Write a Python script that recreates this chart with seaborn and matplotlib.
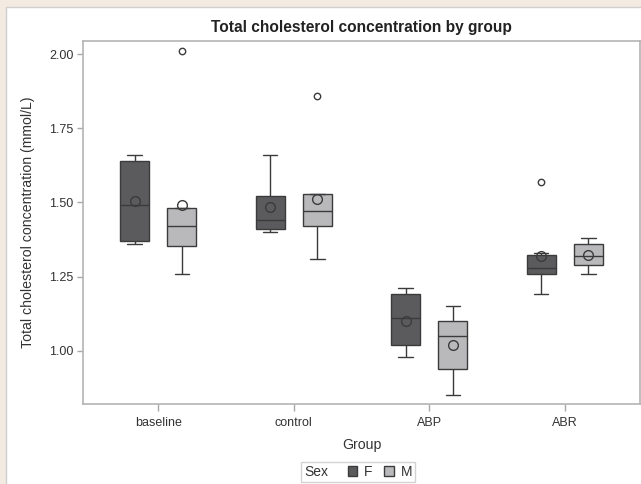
import numpy as np
import pandas as pd
import seaborn as sns
import matplotlib.pyplot as plt
from matplotlib.patches import Patch, Rectangle
from matplotlib.offsetbox import HPacker

# total cholesterol (mmol/L) per group and sex
groups = ["baseline", "control", "ABP", "ABR"]
sexes = ["F", "M"]

baseline_F = [1.36, 1.37, 1.49, 1.64, 1.66]
baseline_M = [1.26, 1.35, 1.36, 1.48, 1.48, 2.01]
control_F = [1.40, 1.41, 1.44, 1.52, 1.66]
control_M = [1.31, 1.42, 1.42, 1.52, 1.53, 1.86]
abp_F = [0.98, 1.02, 1.11, 1.19, 1.21]
abp_M = [0.85, 0.94, 1.05, 1.10, 1.15]
abr_F = [1.19, 1.26, 1.26, 1.30, 1.33, 1.57]
abr_M = [1.26, 1.29, 1.32, 1.36, 1.38]

yticks = [1.00, 1.25, 1.50, 1.75, 2.00]

series = {
    ("baseline", "F"): baseline_F, ("baseline", "M"): baseline_M,
    ("control", "F"): control_F, ("control", "M"): control_M,
    ("ABP", "F"): abp_F, ("ABP", "M"): abp_M,
    ("ABR", "F"): abr_F, ("ABR", "M"): abr_M,
}
rows = []
for (g, s), vals in series.items():
    for v in vals:
        rows.append({"Group": g, "Sex": s, "Chol": v})
df = pd.DataFrame(rows)

sns.set_theme(style="white")
plt.rcParams["font.family"] = ["Liberation Sans", "DejaVu Sans"]

colors = {"F": "#5b5b5d", "M": "#b9b9bc"}
edge = "#3b3b3b"
txt = "#333333"

fig = plt.figure(figsize=(6.41, 4.84), dpi=100, facecolor="#f3eae1")
# white panel with thin border, like the page frame
fig.patches.append(Rectangle((6 / 641, -0.01), 1.0, 1 - 7 / 484 + 0.01,
                             transform=fig.transFigure, facecolor="white",
                             edgecolor="#cfcfcf", linewidth=1.0, zorder=-5))
ax = fig.add_axes([83 / 641, 1 - 404 / 484, (640 - 83) / 641, (404 - 41) / 484])

sns.boxplot(data=df, x="Group", y="Chol", hue="Sex", order=groups,
            hue_order=sexes, palette=colors, saturation=1, width=0.698,
            gap=0.39, linecolor=edge, linewidth=1.0, legend=False,
            showmeans=True,
            meanprops=dict(marker="o", markerfacecolor="none",
                           markeredgecolor=edge, markersize=7,
                           markeredgewidth=1.0),
            flierprops=dict(marker="o", markerfacecolor="none",
                            markeredgecolor=edge, markersize=4.6,
                            markeredgewidth=1.0),
            ax=ax)

ax.set_xlim(-0.555, 3.555)
ax.set_ylim(0.8208, 2.0438)
ax.set_yticks(yticks)
ax.set_yticklabels([f"{t:.2f}" for t in yticks])

for sp in ax.spines.values():
    sp.set_color("#b4b4b4")
    sp.set_linewidth(1.2)

ax.tick_params(axis="both", which="both", length=4, width=1, color="#a8a8a8",
               labelsize=9, labelcolor=txt, pad=3)
ax.tick_params(axis="x", length=5, pad=4)
ax.tick_params(left=True, bottom=True)

ax.set_xlabel("Group", fontsize=10.2, color=txt, labelpad=7)
ax.set_ylabel("Total cholesterol concentration (mmol/L)", fontsize=10.2,
              color=txt, labelpad=10)
ax.set_title("Total cholesterol concentration by group", fontsize=11.2,
             fontweight="bold", color="#222222", pad=6.5)

handles = [Patch(facecolor=colors[s], edgecolor=edge, linewidth=1.0) for s in sexes]
leg = fig.legend(handles, sexes, title="Sex", ncol=2, loc="center",
                 bbox_to_anchor=(358 / 641, 1 - 472 / 484),
                 fontsize=10, title_fontsize=10, frameon=True, fancybox=False,
                 edgecolor="#c8c8c8", handlelength=0.7, handleheight=0.7,
                 handletextpad=0.45, columnspacing=0.9, borderpad=0.25,
                 borderaxespad=0)
leg.get_frame().set_linewidth(1.0)
for t in leg.get_texts():
    t.set_color(txt)
leg.get_title().set_color(txt)
# put the legend title on the same row as the entries
box = leg._legend_box
box._children = [HPacker(pad=0, sep=14, align="center",
                         children=[leg._legend_title_box, leg._legend_handle_box])]

fig.savefig("out.png", dpi=100, facecolor=fig.get_facecolor())
